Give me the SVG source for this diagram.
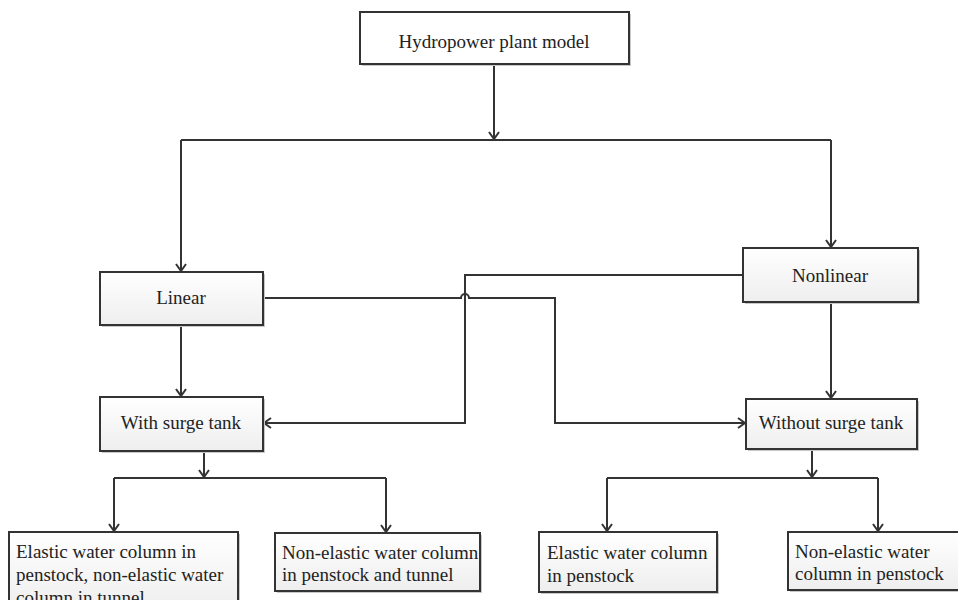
<svg xmlns="http://www.w3.org/2000/svg" width="958" height="600" viewBox="0 0 958 600">
<style>
.box{fill:url(#g);stroke:#333;stroke-width:2}
.sh{fill:#c8c8c8}
.t{font-family:"Liberation Serif","Times New Roman",serif;font-size:19px;fill:#222}
.c{text-anchor:middle}
.ln{fill:none;stroke:#333;stroke-width:2}
</style>
<defs>
<linearGradient id="g" x1="0" y1="0" x2="0" y2="1">
<stop offset="0" stop-color="#ffffff"/>
<stop offset="1" stop-color="#eeeeee"/>
</linearGradient>
<marker id="a" viewBox="-10 -6 12 12" refX="0" refY="0" markerWidth="12" markerHeight="12" orient="auto" markerUnits="userSpaceOnUse">
<path d="M-7,-5 L0,0 L-7,5" fill="none" stroke="#333" stroke-width="2"/>
</marker>
</defs>
<rect width="958" height="600" fill="#fff"/>
<g id="connectors">
<path class="ln" d="M494,64 V139" marker-end="url(#a)"/>
<path class="ln" d="M181,140 H831"/>
<path class="ln" d="M181,140 V271" marker-end="url(#a)"/>
<path class="ln" d="M831,140 V247" marker-end="url(#a)"/>
<path class="ln" d="M181,325 V396" marker-end="url(#a)"/>
<path class="ln" d="M263,298 H461 A4,4 0 0 1 469,298 H555 V423 H745" marker-end="url(#a)"/>
<path class="ln" d="M743,275 H465 V423 H264" marker-end="url(#a)"/>
<path class="ln" d="M831,302 V398" marker-end="url(#a)"/>
<path class="ln" d="M204,451 V477" marker-end="url(#a)"/>
<path class="ln" d="M114,478 H386"/>
<path class="ln" d="M114,478 V531" marker-end="url(#a)"/>
<path class="ln" d="M386,478 V532" marker-end="url(#a)"/>
<path class="ln" d="M812,449 V477" marker-end="url(#a)"/>
<path class="ln" d="M607,478 H878"/>
<path class="ln" d="M607,478 V531" marker-end="url(#a)"/>
<path class="ln" d="M878,478 V531" marker-end="url(#a)"/>
</g>
<g id="hydropower">
<rect class="sh" x="362" y="14" width="269" height="52"/>
<rect x="360" y="12" width="269" height="52" fill="#fff" stroke="#333" stroke-width="2"/>
<text class="t c" x="494" y="48">Hydropower plant model</text>
</g>
<g id="linear">
<rect class="sh" x="102" y="274" width="163" height="53"/>
<rect class="box" x="100" y="272" width="163" height="53"/>
<text class="t c" x="181" y="304">Linear</text>
</g>
<g id="nonlinear">
<rect class="sh" x="745" y="250" width="175" height="54"/>
<rect class="box" x="743" y="248" width="175" height="54"/>
<text class="t c" x="830" y="282">Nonlinear</text>
</g>
<g id="with-surge">
<rect class="sh" x="102" y="399" width="163" height="54"/>
<rect class="box" x="100" y="397" width="163" height="54"/>
<text class="t c" x="181" y="429">With surge tank</text>
</g>
<g id="without-surge">
<rect class="sh" x="748" y="401" width="171" height="50"/>
<rect class="box" x="746" y="399" width="171" height="50"/>
<text class="t c" x="831" y="429">Without surge tank</text>
</g>
<g id="elastic-tunnel">
<rect class="sh" x="11" y="534" width="229" height="80"/>
<rect class="box" x="9" y="532" width="229" height="80"/>
<text class="t" x="16" y="558">Elastic water column in</text>
<text class="t" x="16" y="581">penstock, non-elastic water</text>
<text class="t" x="16" y="604">column in tunnel</text>
</g>
<g id="nonelastic-tunnel">
<rect class="sh" x="277" y="535" width="205" height="58"/>
<rect class="box" x="275" y="533" width="205" height="58"/>
<text class="t" x="282" y="559">Non-elastic water column</text>
<text class="t" x="282" y="581">in penstock and tunnel</text>
</g>
<g id="elastic-penstock">
<rect class="sh" x="541" y="534" width="178" height="60"/>
<rect class="box" x="539" y="532" width="178" height="60"/>
<text class="t" x="547" y="559">Elastic water column</text>
<text class="t" x="547" y="582">in penstock</text>
</g>
<g id="nonelastic-penstock">
<rect class="sh" x="790" y="534" width="180" height="58"/>
<rect class="box" x="788" y="532" width="180" height="58"/>
<text class="t" x="795" y="558">Non-elastic water</text>
<text class="t" x="795" y="580">column in penstock</text>
</g>
</svg>
